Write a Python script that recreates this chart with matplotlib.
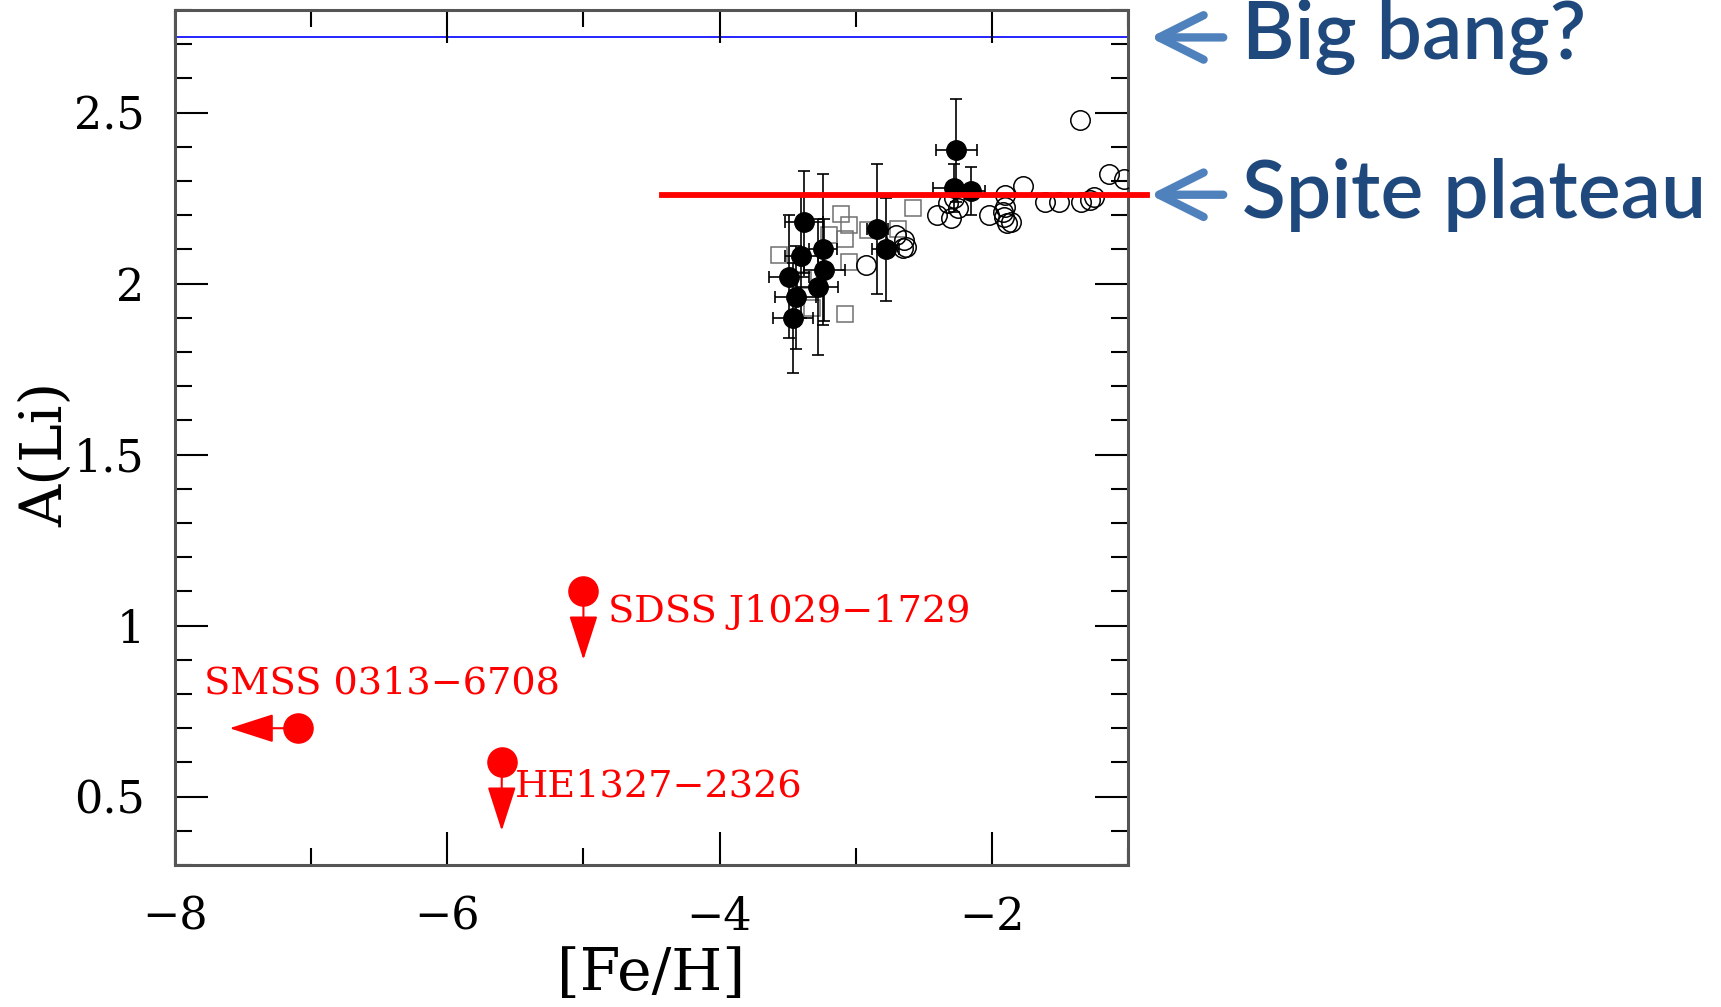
import matplotlib
matplotlib.use('Agg')
import matplotlib.pyplot as plt
from matplotlib.ticker import MultipleLocator, FormatStrFormatter

# Datos leídos de la figura
# estrellas con barras de error (círculos llenos)
fe_filled = [-2.26, -2.28, -2.15, -3.38, -2.84, -2.78, -3.24, -3.40, -3.23, -3.49, -3.28, -3.44, -3.46]
li_filled = [2.39, 2.28, 2.27, 2.18, 2.16, 2.10, 2.10, 2.08, 2.04, 2.02, 1.99, 1.96, 1.90]
fe_err = [0.15, 0.15, 0.10, 0.14, 0.08, 0.10, 0.10, 0.12, 0.15, 0.15, 0.15, 0.15, 0.15]
li_err = [0.15, 0.07, 0.07, 0.15, 0.19, 0.15, 0.22, 0.18, 0.15, 0.18, 0.20, 0.15, 0.16]

# círculos abiertos
fe_open = [-1.35, -1.14, -1.03, -1.77, -1.61, -1.51, -1.345, -1.25, -1.28, -1.86, -1.90,
           -1.90, -1.91, -1.885, -2.02, -2.40, -2.30, -2.325, -2.25, -2.28, -1.92, -2.705,
           -2.656, -2.644, -2.925, -2.63]
li_open = [2.48, 2.32, 2.305, 2.285, 2.24, 2.24, 2.24, 2.252, 2.244, 2.181, 2.259,
           2.225, 2.196, 2.176, 2.201, 2.201, 2.191, 2.235, 2.22, 2.249, 2.21, 2.142,
           2.103, 2.127, 2.054, 2.108]

# cuadrados abiertos
fe_sq = [-2.58, -3.11, -3.05, -3.195, -3.077, -2.913, -3.562, -3.048, -3.077, -3.39, -3.32, -2.69]
li_sq = [2.22, 2.205, 2.171, 2.142, 2.132, 2.157, 2.084, 2.064, 1.91, 2.01, 1.93, 2.16]

# estrellas más pobres en metales (límites superiores)
star_names = ['SDSS J1029\u22121729', 'SMSS 0313\u22126708', 'HE1327\u22122326']
fe_stars = [-5.0, -7.1, -5.6]
li_stars = [1.10, 0.70, 0.60]
fe_tips = [-5.0, -7.6, -5.6]
li_tips = [0.90, 0.70, 0.40]
label_x = [-4.82, -7.79, -5.50]
label_y = [1.04, 0.83, 0.53]

big_bang = 2.72
spite = 2.26
spite_range = [-4.42, -0.86]

fig = plt.figure(figsize=(17.21, 10.07), dpi=100)
ax = fig.add_axes([0.1017, 0.141, 0.5537, 0.849])

serif = 'DejaVu Serif'

ax.axhline(big_bang, color='blue', lw=1.2, zorder=1)
ax.plot(spite_range, [spite, spite], color='red', lw=4.2, clip_on=False, zorder=6)

ax.plot(fe_sq, li_sq, 's', ms=11, mfc='none', mec='#707070', mew=1.1, zorder=2)
ax.plot(fe_open, li_open, 'o', ms=14, mfc='none', mec='black', mew=1.1, zorder=3)
ax.errorbar(fe_filled, li_filled, xerr=fe_err, yerr=li_err, fmt='o', color='black',
            ms=14, capsize=4.5, elinewidth=1.2, capthick=1.2, zorder=4)

# límites superiores en rojo
for i in range(len(star_names)):
    ax.annotate('', xy=(fe_tips[i], li_tips[i]), xytext=(fe_stars[i], li_stars[i]),
                arrowprops=dict(arrowstyle='-|>,head_length=1.4,head_width=0.45',
                                color='red', lw=1.5, mutation_scale=20,
                                shrinkA=0, shrinkB=0), zorder=5)
    ax.text(label_x[i], label_y[i], star_names[i], color='red', fontsize=27.5,
            family=serif, va='center', ha='left')
ax.plot(fe_stars, li_stars, 'o', color='red', ms=21, zorder=6)

ax.set_xlim(-8, -1)
ax.set_ylim(0.3, 2.8)
ax.xaxis.set_major_locator(MultipleLocator(2))
ax.xaxis.set_minor_locator(MultipleLocator(1))
ax.yaxis.set_major_locator(MultipleLocator(0.5))
ax.yaxis.set_minor_locator(MultipleLocator(0.1))
ax.yaxis.set_major_formatter(FormatStrFormatter('%g'))
ax.tick_params(which='both', direction='in', top=True, right=True, width=1.5, color='black')
ax.tick_params(which='major', length=24, labelsize=32, pad=22)
ax.tick_params(which='minor', length=12)
for lab in ax.get_xticklabels() + ax.get_yticklabels():
    lab.set_family(serif)
for s in ax.spines.values():
    s.set_color('#555555')
    s.set_linewidth(2.2)

ax.set_xlabel('[Fe/H]', fontsize=42, family=serif)
ax.set_ylabel('A(Li)', fontsize=42, family=serif)
ax.xaxis.set_label_coords(0.5, -0.095)
ax.yaxis.set_label_coords(-0.106, 0.48)

# flechas y textos azules fuera del gráfico
for yv, txt in [(big_bang, 'Big bang?'), (spite, 'Spite plateau')]:
    ax.annotate('', xy=(1.023, yv), xytext=(1.10, yv),
                xycoords=('axes fraction', 'data'), textcoords=('axes fraction', 'data'),
                arrowprops=dict(arrowstyle='->,head_length=1.6,head_width=0.8',
                                color='#4F81BD', lw=6, mutation_scale=20,
                                shrinkA=0, shrinkB=0, capstyle='round',
                                joinstyle='round'))
    ax.text(1.12, yv, txt, transform=ax.get_yaxis_transform(), color='#1F497D',
            fontsize=58, family=['Lato', 'DejaVu Sans'], fontweight='semibold',
            va='center', ha='left', clip_on=False)

fig.savefig('out.png', dpi=100)
